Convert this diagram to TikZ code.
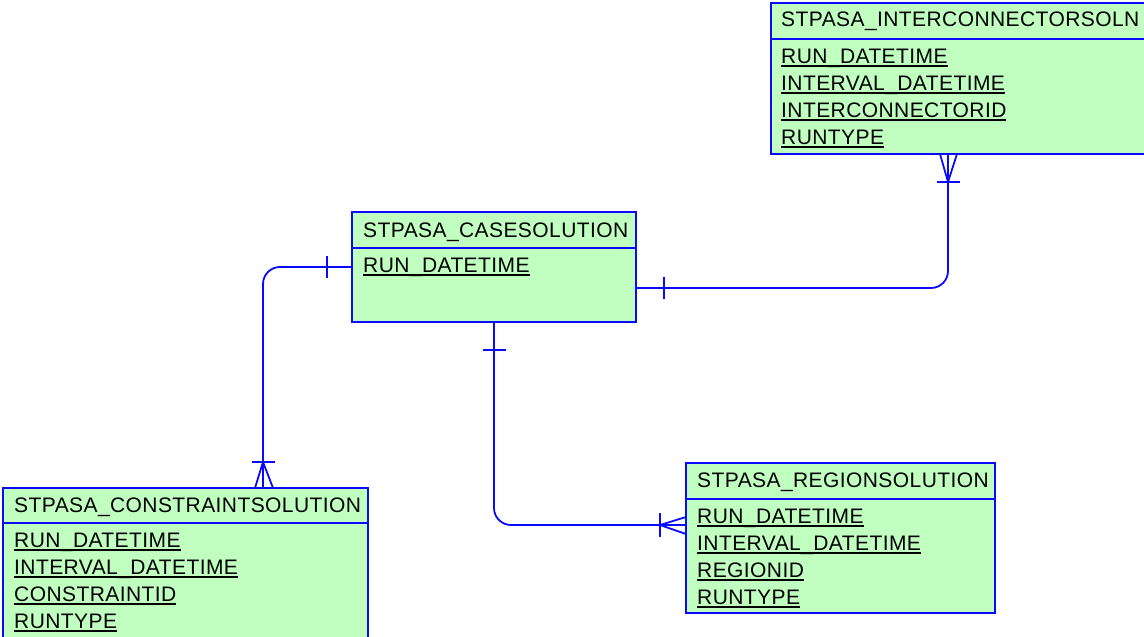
\documentclass[tikz,border=0pt]{standalone}
\usepackage{fontspec}
\setmainfont{Liberation Sans}
\newfontfamily\erfont[LetterSpace=2]{Liberation Sans}
\definecolor{erblue}{RGB}{10,10,255}
\definecolor{ergreen}{RGB}{192,255,192}
\newcommand{\ful}[1]{\setbox0\hbox{#1}\rlap{\rule[-3.6pt]{\wd0}{1.3pt}}\box0}
\begin{document}
\begin{tikzpicture}[x=1pt,y=-1pt,
  entity/.style={draw=erblue, fill=ergreen, line width=2pt, inner sep=0pt, outer sep=0pt, anchor=north west},
  divline/.style={draw=erblue, line width=2pt},
  hdr/.style={anchor=base west, inner sep=0pt, font=\erfont\fontsize{21}{24}\selectfont},
  fld/.style={anchor=base west, inner sep=0pt, font=\erfont\fontsize{21}{24}\selectfont},
  rel/.style={draw=erblue, line width=1.8pt, rounded corners=17pt},
  crowline/.style={draw=erblue, line width=1.8pt}]
\useasboundingbox (0,0) rectangle (1144,637);
\clip (0,0) rectangle (1144,637);

% STPASA_INTERCONNECTORSOLN
\node[entity, minimum width=380pt, minimum height=151pt] (ic) at (771,3) {};
\draw[divline] ([yshift=-36pt]ic.north west) -- ([yshift=-36pt]ic.north east);
\node[hdr] (icT) at (781,27) {STPASA\_INTERCONNECTORSOLN};
\node[fld] (ic1) at (781,63) {\ful{RUN\_DATETIME}};
\node[fld] (ic2) at (781,90) {\ful{INTERVAL\_DATETIME}};
\node[fld] (ic3) at (781,117) {\ful{INTERCONNECTORID}};
\node[fld] (ic4) at (781,144) {\ful{RUNTYPE}};

% STPASA_CASESOLUTION
\node[entity, minimum width=284pt, minimum height=110pt] (cs) at (352,212) {};
\draw[divline] ([yshift=-36pt]cs.north west) -- ([yshift=-36pt]cs.north east);
\node[hdr] (csT) at (363,237) {STPASA\_CASESOLUTION};
\node[fld] (cs1) at (363,272) {\ful{RUN\_DATETIME}};

% STPASA_CONSTRAINTSOLUTION
\node[entity, minimum width=365pt, minimum height=160pt] (con) at (3,488) {};
\draw[divline] ([yshift=-35pt]con.north west) -- ([yshift=-35pt]con.north east);
\node[hdr] (conT) at (14,512) {STPASA\_CONSTRAINTSOLUTION};
\node[fld] (con1) at (14,547) {\ful{RUN\_DATETIME}};
\node[fld] (con2) at (14,574) {\ful{INTERVAL\_DATETIME}};
\node[fld] (con3) at (14,601) {\ful{CONSTRAINTID}};
\node[fld] (con4) at (14,628) {\ful{RUNTYPE}};

% STPASA_REGIONSOLUTION
\node[entity, minimum width=309pt, minimum height=150pt] (reg) at (686,463) {};
\draw[divline] ([yshift=-36pt]reg.north west) -- ([yshift=-36pt]reg.north east);
\node[hdr] (regT) at (697,487) {STPASA\_REGIONSOLUTION};
\node[fld] (reg1) at (697,523) {\ful{RUN\_DATETIME}};
\node[fld] (reg2) at (697,550) {\ful{INTERVAL\_DATETIME}};
\node[fld] (reg3) at (697,577) {\ful{REGIONID}};
\node[fld] (reg4) at (697,604) {\ful{RUNTYPE}};

% connector: case -> constraint
\coordinate (k1) at (263,267);
\draw[rel] (cs.west) -- (k1) -- (k1 |- con.north);
\draw[crowline] ([xshift=-25pt,yshift=11pt]cs.west) -- ([xshift=-25pt,yshift=-11pt]cs.west);
\coordinate (f1) at (263,462);
\draw[crowline] (f1 |- con.north) ++(-8,0) -- (f1) -- ++(10,26);
\draw[crowline] ([xshift=-11pt]f1) -- ([xshift=12pt]f1);

% connector: case -> interconnector
\coordinate (k2) at (948,288);
\draw[rel] ([yshift=-21pt]cs.east) -- (k2) -- (k2 |- ic.south);
\draw[crowline] ([xshift=28pt,yshift=-10pt]cs.east) -- ([xshift=28pt,yshift=-32pt]cs.east);
\coordinate (f2) at (948,182);
\draw[crowline] (f2 |- ic.south) ++(-8,0) -- (f2) -- ++(9,-28);
\draw[crowline] ([xshift=-11pt]f2) -- ([xshift=12pt]f2);

% connector: case -> region
\coordinate (k3) at (494,525);
\draw[rel] (cs.south) -- (k3) -- (k3 -| reg.west);
\draw[crowline] ([xshift=-11pt,yshift=-28pt]cs.south) -- ([xshift=12pt,yshift=-28pt]cs.south);
\coordinate (f3) at (660,525);
\draw[crowline] (f3 -| reg.west) ++(0,-8) -- (f3) -- ++(26,9);
\draw[crowline] ([yshift=12pt]f3) -- ([yshift=-12pt]f3);
\end{tikzpicture}
\end{document}
